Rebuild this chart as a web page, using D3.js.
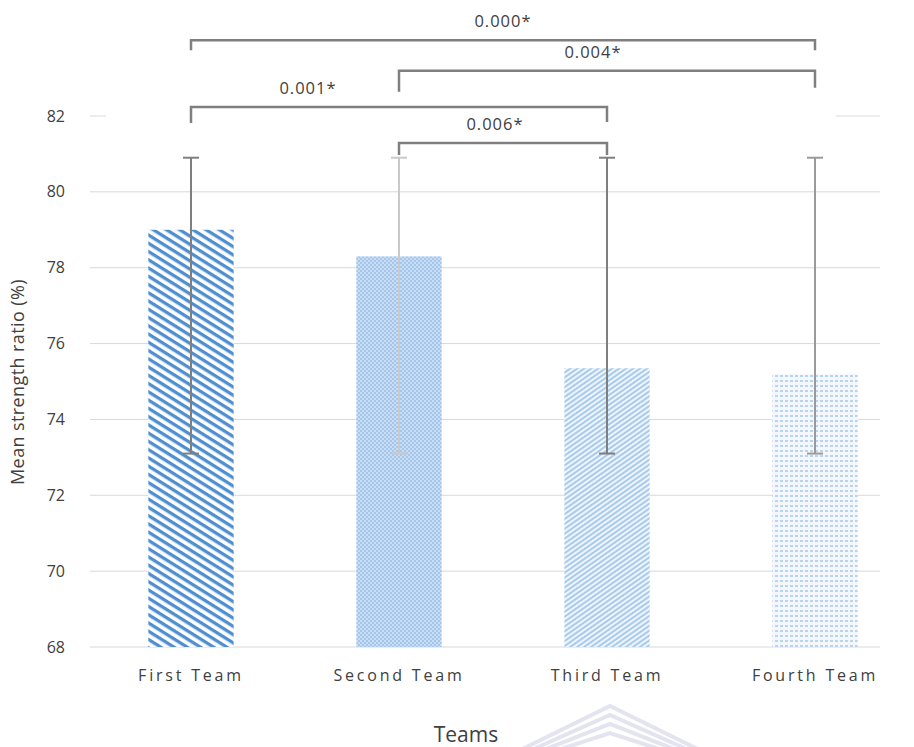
<!DOCTYPE html>
<html lang="en">
<head>
    <meta charset="UTF-8">
    <title>Mean strength ratio by team</title>
    <style>
        body{ margin:0; background:#fff; }
        text{ font-family:"Open Sans", sans-serif; fill:#404040; }
        .grid line{ stroke:#d9d9d9; stroke-width:1; }
        .tick-label{ font-size:16px; text-anchor:end; }
        .x-label{ font-size:16px; text-anchor:middle; letter-spacing:2.8px; }
        .bracket{ fill:none; stroke:#7f7f7f; stroke-width:2.5; }
        .pval{ font-size:16.5px; text-anchor:middle; letter-spacing:1px; }
        .err{ stroke-width:2; }
    </style>
</head>
<body>
    <svg class="chart" width="914" height="747"></svg>
    <script src="https://cdn.jsdelivr.net/npm/d3@7"></script>
    <script>
        // data
        var teams = ["First Team", "Second Team", "Third Team", "Fourth Team"];
        var means = [79.0, 78.3, 75.35, 75.2];
        var errUpper = [80.9, 80.9, 80.9, 80.9];
        var errLower = [73.1, 73.1, 73.1, 73.1];
        var yTicks = [68, 70, 72, 74, 76, 78, 80, 82];

        // pairwise comparisons
        var pairFrom = ["First Team", "Second Team", "First Team", "Second Team"];
        var pairTo = ["Fourth Team", "Fourth Team", "Third Team", "Third Team"];
        var pValues = ["0.000*", "0.004*", "0.001*", "0.006*"];

        // layout / style (not data)
        var bracketLevel = [84.0, 83.19, 82.24, 81.29];   // in axis units
        var bracketDrop = [[10, 10], [21, 17], [16, 15], [12, 12]];
        var labelShift = [0, -14, -91, -8];
        var fills = ["url(#p1)", "url(#p2)", "url(#p3)", "url(#p4)"];
        var errColors = ["#7f7f7f", "#c9c9c9", "#7f7f7f", "#9a9a9a"];

        var svg = d3.select("svg");
        var gridLeft = 90, gridRight = 880;

        var x = d3.scaleBand().domain(teams).range([87, 919])
            .paddingInner(0.59).paddingOuter(0.295);
        var y = d3.scaleLinear().domain([68, 82]).range([647, 116]);

        // patterns
        var defs = svg.append("defs");
        var p1 = defs.append("pattern").attr("id", "p1")
            .attr("patternUnits", "userSpaceOnUse").attr("width", 7).attr("height", 7)
            .attr("patternTransform", "rotate(32)");
        p1.append("rect").attr("width", 7).attr("height", 7).attr("fill", "#fff");
        p1.append("rect").attr("width", 7).attr("height", 3.3).attr("fill", "#4f8fd0");

        var p2 = defs.append("pattern").attr("id", "p2")
            .attr("patternUnits", "userSpaceOnUse").attr("width", 4).attr("height", 4);
        p2.append("rect").attr("width", 4).attr("height", 4).attr("fill", "#a3c6ea");
        p2.append("rect").attr("width", 2).attr("height", 2).attr("fill", "#c9def4");
        p2.append("rect").attr("x", 2).attr("y", 2).attr("width", 2).attr("height", 2).attr("fill", "#c9def4");

        var p3 = defs.append("pattern").attr("id", "p3")
            .attr("patternUnits", "userSpaceOnUse").attr("width", 4).attr("height", 4)
            .attr("patternTransform", "rotate(-35)");
        p3.append("rect").attr("width", 4).attr("height", 4).attr("fill", "#eef5fc");
        p3.append("rect").attr("width", 4).attr("height", 2).attr("fill", "#a9cbec");

        var p4 = defs.append("pattern").attr("id", "p4")
            .attr("patternUnits", "userSpaceOnUse").attr("width", 5).attr("height", 5);
        p4.append("rect").attr("width", 5).attr("height", 5).attr("fill", "#f4f8fd");
        p4.append("rect").attr("width", 3).attr("height", 2).attr("fill", "#b9d4ef");

        // watermark at the bottom
        var wm = svg.append("g").attr("fill", "none").attr("stroke", "#e4e4f0").attr("stroke-width", 4);
        [0, 9, 18, 27].forEach(function(o){
            wm.append("path").attr("d", "M" + (500 + o) + ",760 L" + (610) + "," + (706 + o) + " L" + (720 - o) + ",760");
        });

        // grid + y labels
        var grid = svg.append("g").attr("class", "grid");
        grid.selectAll("line").data(yTicks).enter().append("line")
            .attr("x1", gridLeft).attr("x2", gridRight)
            .attr("y1", function(d){ return y(d); })
            .attr("y2", function(d){ return y(d); });
        // annotation area is opaque over the top grid line
        svg.append("rect").attr("x", 106).attr("y", 0).attr("width", 730).attr("height", 125).attr("fill", "#fff");

        svg.append("g").selectAll("text").data(yTicks).enter().append("text")
            .attr("class", "tick-label")
            .attr("x", 65).attr("y", function(d){ return y(d); })
            .attr("dy", "0.35em")
            .text(function(d){ return d; });

        // bars
        var bar = svg.selectAll(".bar").data(teams).enter().append("g").attr("class", "bar");
        bar.append("rect")
            .attr("x", function(d){ return x(d); })
            .attr("y", function(d, i){ return y(means[i]); })
            .attr("width", x.bandwidth())
            .attr("height", function(d, i){ return y(68) - y(means[i]); })
            .attr("fill", function(d, i){ return fills[i]; });

        // error bars
        var cx = function(d){ return x(d) + x.bandwidth() / 2; };
        bar.append("line").attr("class", "err")
            .attr("x1", cx).attr("x2", cx)
            .attr("y1", function(d, i){ return y(errUpper[i]); })
            .attr("y2", function(d, i){ return y(errLower[i]); })
            .attr("stroke", function(d, i){ return errColors[i]; });
        [errUpper, errLower].forEach(function(arr){
            bar.append("line").attr("class", "err")
                .attr("x1", function(d){ return cx(d) - 8; })
                .attr("x2", function(d){ return cx(d) + 8; })
                .attr("y1", function(d, i){ return y(arr[i]); })
                .attr("y2", function(d, i){ return y(arr[i]); })
                .attr("stroke", function(d, i){ return errColors[i]; });
        });

        // x labels
        svg.append("g").selectAll("text").data(teams).enter().append("text")
            .attr("class", "x-label")
            .attr("x", cx).attr("y", 681)
            .text(function(d){ return d; });

        // axis titles
        svg.append("text")
            .attr("transform", "translate(24,382) rotate(-90)")
            .attr("text-anchor", "middle")
            .style("font-size", "18px").style("letter-spacing", "0.4px")
            .text("Mean strength ratio (%)");
        svg.append("text")
            .attr("x", 466).attr("y", 742)
            .attr("text-anchor", "middle")
            .style("font-size", "21px")
            .text("Teams");

        // significance brackets
        var br = svg.append("g").selectAll("g").data(pValues).enter().append("g");
        br.append("path").attr("class", "bracket")
            .attr("d", function(d, i){
                var x1 = cx(pairFrom[i]), x2 = cx(pairTo[i]), yy = y(bracketLevel[i]);
                return "M" + x1 + "," + (yy + bracketDrop[i][0]) + "V" + yy +
                    "H" + x2 + "V" + (yy + bracketDrop[i][1]);
            });
        br.append("text").attr("class", "pval")
            .attr("x", function(d, i){ return (cx(pairFrom[i]) + cx(pairTo[i])) / 2 + labelShift[i]; })
            .attr("y", function(d, i){ return y(bracketLevel[i]) - 13; })
            .text(function(d){ return d; });
    </script>
</body>
</html>
